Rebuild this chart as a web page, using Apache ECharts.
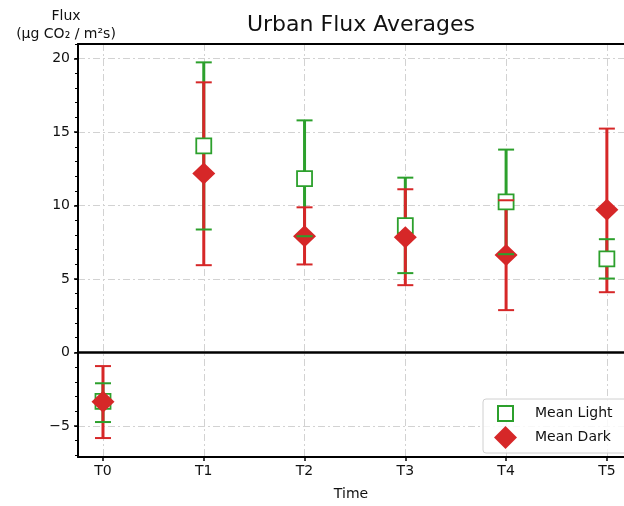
<!DOCTYPE html>
<html>
<head>
<meta charset="utf-8">
<title>Urban Flux Averages</title>
<script src="https://cdn.jsdelivr.net/npm/echarts@6/dist/echarts.min.js"></script>
<style>
html, body { margin: 0; padding: 0; background: #fff; }
#main { width: 624px; height: 506px; }
</style>
</head>
<body>
<div id="main"></div>
<script>
// values
var times = ['T0', 'T1', 'T2', 'T3', 'T4', 'T5'];
var lightMean = [-3.33, 14.06, 11.84, 8.64, 10.25, 6.37];
var lightLow  = [-4.74, 8.37, 7.91, 5.40, 6.69, 5.03];
var lightHigh = [-2.10, 19.75, 15.80, 11.90, 13.81, 7.71];
var darkMean  = [-3.36, 12.18, 7.91, 7.85, 6.64, 9.71];
var darkLow   = [-5.83, 5.94, 5.99, 4.58, 2.88, 4.10];
var darkHigh  = [-0.93, 18.39, 9.88, 11.11, 10.36, 15.24];
var yMajor = [-5, 0, 5, 10, 15, 20];

var GREEN = '#2ca02c';
var RED = '#d62728';
var FONT = 'DejaVu Sans';

var xIdx = times.map(function (t, i) { return i; });
var yMinor = [];
for (var v = -7; v <= 21; v++) yMinor.push(v);

function barItem(color) {
    return function (params, api) {
        var x = api.value(0);
        var p1 = api.coord([x, api.value(1)]);
        var p2 = api.coord([x, api.value(2)]);
        return {
            type: 'line',
            shape: { x1: p1[0], y1: p1[1], x2: p2[0], y2: p2[1] },
            style: { stroke: color, lineWidth: 3 }
        };
    };
}

function capItem(color) {
    return function (params, api) {
        var x = api.value(0);
        var p1 = api.coord([x, api.value(1)]);
        var p2 = api.coord([x, api.value(2)]);
        var hw = 8;
        return {
            type: 'group',
            children: [
                { type: 'line', shape: { x1: p1[0] - hw, y1: p1[1], x2: p1[0] + hw, y2: p1[1] }, style: { stroke: color, lineWidth: 2 } },
                { type: 'line', shape: { x1: p2[0] - hw, y1: p2[1], x2: p2[0] + hw, y2: p2[1] }, style: { stroke: color, lineWidth: 2 } }
            ]
        };
    };
}

var lightRange = times.map(function (t, i) { return [i, lightLow[i], lightHigh[i]]; });
var darkRange = times.map(function (t, i) { return [i, darkLow[i], darkHigh[i]]; });

var gridLine = { color: '#d2d2d2', width: 1, type: [7, 3, 2, 3] };

var chart = echarts.init(document.getElementById('main'));
var option = {
    animation: false,
    textStyle: { fontFamily: FONT },
    title: {
        text: 'Urban Flux Averages',
        left: 356,
        textAlign: 'center',
        top: 9,
        textStyle: { fontFamily: FONT, fontSize: 22, fontWeight: 'normal', color: '#111' }
    },
    legend: {
        orient: 'vertical',
        left: 483,
        top: 399,
        padding: [2, 30, 4, 2],
        itemGap: 0,
        itemWidth: 44,
        itemHeight: 23,
        selectedMode: false,
        borderColor: '#d0d0d0',
        borderWidth: 1,
        borderRadius: 3,
        backgroundColor: 'rgba(255,255,255,0.85)',
        textStyle: { fontFamily: FONT, fontSize: 14, color: '#111' },
        data: [
            { name: 'Mean Light', icon: 'path://M0,0M44,23M12,4H27V19H12Z' },
            { name: 'Mean Dark', icon: 'path://M0,0M44,23M19.5,0L31,11.5L19.5,23L8,11.5Z' }
        ]
    },
    grid: { left: 78, top: 44, right: 0, height: 414 },
    xAxis: [{
        type: 'value',
        position: 'bottom',
        min: -0.248,
        max: 5.17,
        name: 'Time',
        nameLocation: 'middle',
        nameGap: 30,
        nameTextStyle: { fontFamily: FONT, fontSize: 14, color: '#111' },
        axisLine: { onZero: false, lineStyle: { color: '#000', width: 2 } },
        axisTick: { customValues: xIdx, length: 4, lineStyle: { color: '#000', width: 1.5 } },
        axisLabel: {
            customValues: xIdx,
            margin: 7,
            fontFamily: FONT, fontSize: 14, color: '#111',
            formatter: function (v) { return times[Math.round(v)]; }
        },
        splitLine: { show: true, lineStyle: gridLine }
    }, {
        type: 'value',
        position: 'top',
        min: -0.248,
        max: 5.17,
        axisLine: { onZero: false, lineStyle: { color: '#000', width: 2 } },
        axisTick: { show: false },
        axisLabel: { show: false },
        splitLine: { show: false }
    }],
    yAxis: [{
        type: 'value',
        position: 'left',
        min: -7.12,
        max: 21,
        name: 'Flux\n(µg CO₂ / m²s)',
        nameLocation: 'end',
        nameGap: 1,
        nameTextStyle: {
            fontFamily: FONT, fontSize: 14, color: '#111',
            align: 'center', verticalAlign: 'bottom', lineHeight: 18,
            padding: [0, 24, 0, 0]
        },
        axisLine: { onZero: false, lineStyle: { color: '#000', width: 2 } },
        axisTick: { customValues: yMajor, length: 4, lineStyle: { color: '#000', width: 1.5 } },
        axisLabel: {
            customValues: yMajor,
            margin: 8,
            fontFamily: FONT, fontSize: 14, color: '#111',
            formatter: function (v) { return v < 0 ? '\u2212' + (-v) : String(v); }
        },
        splitLine: { show: true, lineStyle: gridLine }
    }, {
        // minor ticks only
        type: 'value',
        position: 'left',
        offset: 0,
        min: -7.12,
        max: 21,
        axisLine: { show: false, onZero: false },
        axisTick: { customValues: yMinor, length: 3, lineStyle: { color: '#000', width: 1 } },
        axisLabel: { show: false },
        splitLine: { show: false }
    }],
    series: [
        {
            name: 'lightBars',
            type: 'custom',
            z: 2,
            renderItem: barItem(GREEN),
            data: lightRange,
            markLine: {
                silent: true,
                symbol: 'none',
                label: { show: false },
                lineStyle: { color: '#000', width: 2.5, type: 'solid' },
                data: [{ yAxis: 0 }]
            }
        },
        {
            name: 'darkBars',
            type: 'custom',
            z: 3,
            renderItem: barItem(RED),
            data: darkRange
        },
        {
            name: 'Mean Light',
            type: 'scatter',
            z: 4,
            symbol: 'rect',
            symbolSize: 15,
            itemStyle: { color: '#fff', borderColor: GREEN, borderWidth: 1.8, opacity: 1 },
            data: times.map(function (t, i) { return [i, lightMean[i]]; })
        },
        {
            name: 'Mean Dark',
            type: 'scatter',
            z: 5,
            symbol: 'diamond',
            symbolSize: [23, 22],
            itemStyle: { color: RED, opacity: 1 },
            data: times.map(function (t, i) { return [i, darkMean[i]]; })
        },
        {
            name: 'lightCaps',
            type: 'custom',
            z: 6,
            renderItem: capItem(GREEN),
            data: lightRange
        },
        {
            name: 'darkCaps',
            type: 'custom',
            z: 6,
            renderItem: capItem(RED),
            data: darkRange
        }
    ]
};
chart.setOption(option);
</script>
</body>
</html>
